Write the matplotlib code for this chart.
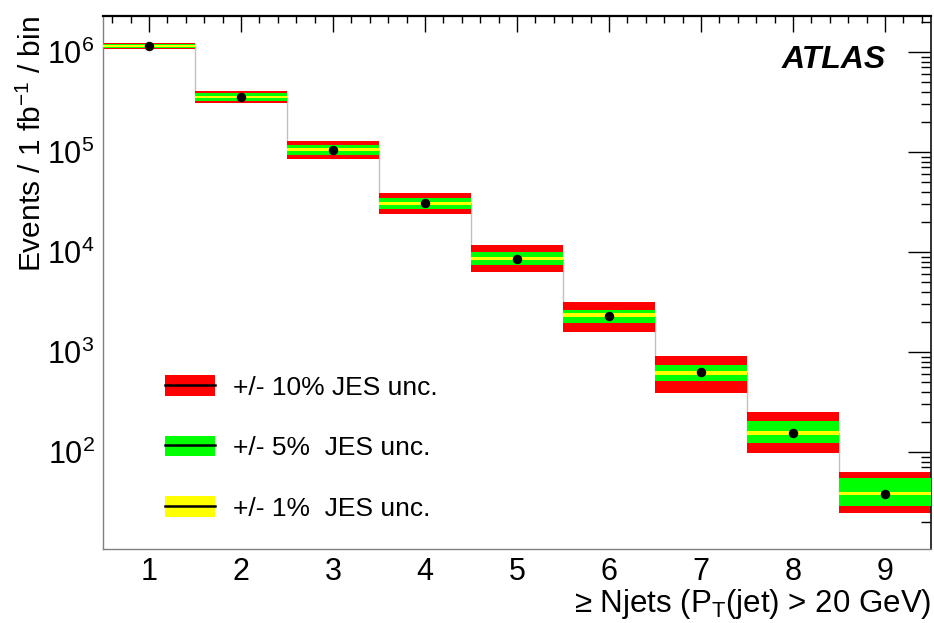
import matplotlib
matplotlib.use("Agg")
import matplotlib.pyplot as plt
import numpy as np
from matplotlib.patches import Patch
from matplotlib.lines import Line2D
from matplotlib.legend_handler import HandlerTuple
from matplotlib.ticker import MultipleLocator, LogLocator, NullFormatter

plt.rcParams['font.family'] = ['Liberation Sans', 'DejaVu Sans']
plt.rcParams['mathtext.default'] = 'regular'

# inclusive jet multiplicity, events / 1 fb^-1
njets = [1, 2, 3, 4, 5, 6, 7, 8, 9]
nominal = [1.15e6, 3.58e5, 1.05e5, 3.07e4, 8.57e3, 2.31e3, 627, 156, 38]
up10 = [1.22e6, 4.10e5, 1.30e5, 3.86e4, 1.175e4, 3.18e3, 918, 248, 63]
dn10 = [1.08e6, 3.07e5, 8.45e4, 2.38e4, 6.35e3, 1.58e3, 385, 98, 24.5]
up5 = [1.20e6, 3.92e5, 1.18e5, 3.49e4, 1.0e4, 2.63e3, 733, 202, 55]
dn5 = [1.10e6, 3.21e5, 9.33e4, 2.69e4, 7.41e3, 1.96e3, 507, 124, 28.8]
up1 = [1.165e6, 3.67e5, 1.09e5, 3.18e4, 8.91e3, 2.44e3, 638, 162, 39.4]
dn1 = [1.13e6, 3.48e5, 1.02e5, 2.95e4, 8.22e3, 2.22e3, 589, 148, 36.7]

labels = ['+/- 10% JES unc.', '+/- 5%  JES unc.', '+/- 1%  JES unc.']

x = np.array(njets)
edges = np.append(x - 0.5, x[-1] + 0.5)

fig = plt.figure(figsize=(9.34, 6.23), dpi=100)
ax = fig.add_axes([0.1103, 0.1188, 0.8865, 0.8555])

ax.stairs(nominal, edges, baseline=None, color='#c8bfb6', lw=1.0, zorder=1)
ax.bar(x, np.array(up10) - np.array(dn10), bottom=dn10, width=1.0,
       color='#ff0000', zorder=2)
ax.bar(x, np.array(up5) - np.array(dn5), bottom=dn5, width=1.0,
       color='#00ff00', zorder=3)
ax.bar(x, np.array(up1) - np.array(dn1), bottom=dn1, width=1.0,
       color='#ffff00', zorder=4)
ax.plot(x, nominal, 'o', color='black', markersize=5.8, zorder=5)

ax.set_yscale('log')
ax.set_xlim(0.5, 9.5)
ax.set_ylim(10.7, 2.29e6)

ax.xaxis.set_major_locator(MultipleLocator(1))
ax.xaxis.set_minor_locator(MultipleLocator(0.2))
ax.yaxis.set_major_locator(LogLocator(base=10, numticks=10))
ax.yaxis.set_minor_locator(LogLocator(base=10, subs=np.arange(2, 10), numticks=20))
ax.yaxis.set_minor_formatter(NullFormatter())

ax.tick_params(axis='x', which='both', direction='in', bottom=False, top=True,
               labelbottom=True, labelsize=22, pad=6)
ax.tick_params(axis='x', which='major', length=11.5, width=1.0)
ax.tick_params(axis='x', which='minor', length=5, width=1.0)
ax.tick_params(axis='y', which='both', direction='in', left=False, right=True,
               labelleft=True, labelsize=22, pad=6)
ax.tick_params(axis='y', which='major', length=16.5, width=1.0)
ax.tick_params(axis='y', which='minor', length=7.5, width=1.0)

ax.spines['top'].set_linewidth(1.6)
ax.spines['top'].set_color('black')
ax.spines['right'].set_linewidth(1.3)
ax.spines['right'].set_color('#222222')
ax.spines['left'].set_color('#808080')
ax.spines['bottom'].set_color('#808080')
ax.spines['left'].set_linewidth(1.0)
ax.spines['bottom'].set_linewidth(1.0)

ax.set_ylabel('Events / 1 fb$^{-1}$ / bin', fontsize=21.5, loc='top')
ax.yaxis.set_label_coords(-0.0676, 1.0)
ax.set_xlabel('\u2265 Njets (P$_{T}$(jet) > 20 GeV)', fontsize=22.5, loc='right')
ax.xaxis.set_label_coords(1.0, -0.071)

ax.text(0.9457, 0.9175, 'ATLAS', transform=ax.transAxes, ha='right', va='center',
        fontsize=23, fontweight='bold', fontstyle='italic')

handles = []
for c in ['#ff0000', '#00ff00', '#ffff00']:
    handles.append((Patch(facecolor=c, edgecolor='none'),
                    Line2D([], [], color='black', lw=1.8)))
ax.legend(handles, labels, handler_map={tuple: HandlerTuple(ndivide=1)},
          loc='upper left', bbox_to_anchor=(0.075, 0.326), frameon=False,
          fontsize=19, handlelength=1.9, handleheight=0.83, handletextpad=0.68,
          labelspacing=1.36, borderpad=0, borderaxespad=0)

fig.savefig('out.png', dpi=100)
